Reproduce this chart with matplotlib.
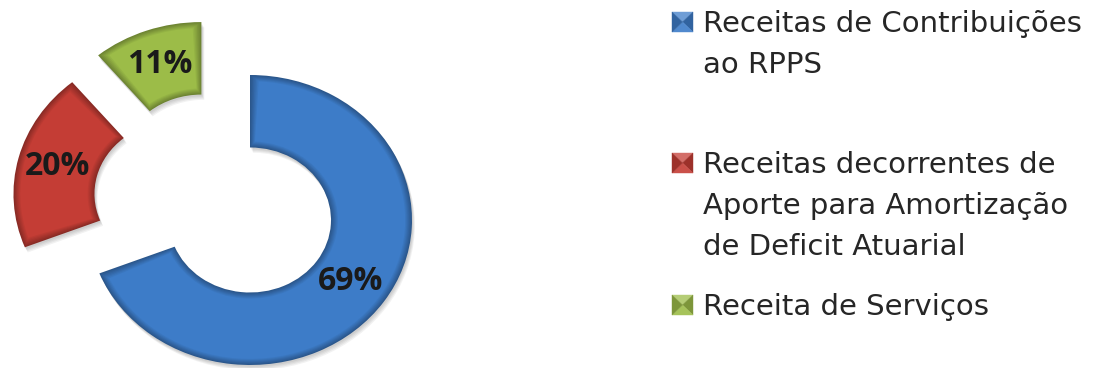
import numpy as np
import matplotlib
matplotlib.use('Agg')

import matplotlib.pyplot as plt
from matplotlib.patches import Wedge, Polygon
from matplotlib.colors import to_rgb

labels = ['Receitas de Contribuições\nao RPPS',
          'Receitas decorrentes de\nAporte para Amortização\nde Deficit Atuarial',
          'Receita de Serviços']
values = [69, 20, 11]

colors = ['#3d7cc8', '#c43d35', '#9cbc48']
# pulled-out slices, offset in radius units
offsets = [(0.0, 0.0), (-0.46, 0.18), (-0.30, 0.365)]

W, H = 1094, 368


def mix(c, t, k):
    c = np.array(to_rgb(c))
    t = np.array(to_rgb(t))
    return tuple(c + (t - c) * k)


fig = plt.figure(figsize=(W / 100, H / 100), dpi=100)
ax = fig.add_axes([0, 0, 440 / W, 1])

wedges, _, pct = ax.pie(values, colors=colors, startangle=90, counterclock=False,
                        radius=1.0, wedgeprops=dict(width=0.5, linewidth=0),
                        autopct=lambda p: f'{p:.0f}%', pctdistance=0.75,
                        textprops=dict(fontsize=23, fontweight='bold',
                                       color='#1a1a1a', family='Open Sans'))

for w, txt, (dx, dy), col in zip(wedges, pct, offsets, colors):
    w.set_center((dx, dy))
    x, y = txt.get_position()
    txt.set_position((x + dx, y + dy))
    txt.set_zorder(20)

    t1, t2, r, wd = w.theta1, w.theta2, w.r, w.width
    rmid = r - wd / 2

    # soft drop shadow
    for s in range(4):
        off = 0.012 + s * 0.008
        ax.add_patch(Wedge((dx + off * 0.5, dy - off), r, t1, t2, width=wd,
                           facecolor='k', alpha=0.05, linewidth=0, zorder=0))

    # bevel: darker rim fading into the face colour
    w.set_facecolor(mix(col, 'black', 0.3))
    w.set_zorder(1)
    n, step = 6, 0.007
    for k in range(1, n + 1):
        d = k * step
        ang = np.degrees(d / rmid)
        ax.add_patch(Wedge((dx, dy), r - d, t1 + ang, t2 - ang, width=wd - 2 * d,
                           facecolor=mix(col, 'black', 0.3 * (1 - k / n)),
                           linewidth=0, zorder=1 + k))

# centre at pixel (250, 220), radius 162 px across and 145 px down
ax.set_aspect('auto')
ax.set_xlim(-250 / 162, (440 - 250) / 162)
ax.set_ylim(-(H - 220) / 145, 220 / 145)
ax.axis('off')

# legend with pyramid-shaded swatches
tops = [12, 153, 295]
for lab, col, top in zip(labels, colors, tops):
    x0, x1 = 672, 693
    y0, y1 = top, top + 20
    xc, yc = (x0 + x1) / 2, (y0 + y1) / 2
    P = lambda px, py: (px / W, 1 - py / H)
    faces = [
        ([(x0, y0), (x1, y0), (xc, yc)], mix(col, 'white', 0.25)),
        ([(x1, y0), (x1, y1), (xc, yc)], mix(col, 'black', 0.2)),
        ([(x0, y1), (x1, y1), (xc, yc)], mix(col, 'white', 0.1)),
        ([(x0, y0), (x0, y1), (xc, yc)], mix(col, 'black', 0.2)),
    ]
    for pts, fc in faces:
        fig.add_artist(Polygon([P(*p) for p in pts], closed=True, facecolor=fc,
                               edgecolor=fc, linewidth=0.3,
                               transform=fig.transFigure))
    for i, line in enumerate(lab.split('\n')):
        fig.text(703 / W, 1 - (top + 20 + i * 41) / H, line, fontsize=21,
                 family='DejaVu Sans', color='#262626', va='baseline', ha='left')

fig.savefig('out.png', dpi=100)
